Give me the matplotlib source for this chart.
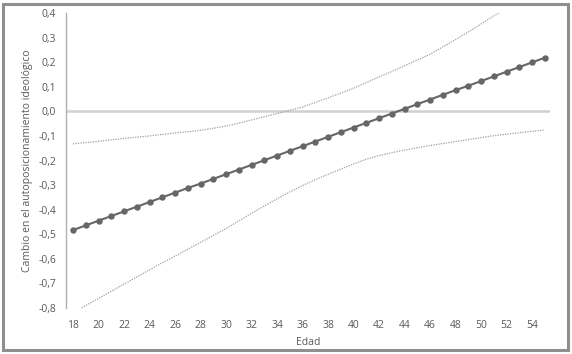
import matplotlib
matplotlib.use("Agg")
import matplotlib.pyplot as plt
from matplotlib.patches import Rectangle
from matplotlib.ticker import FuncFormatter

plt.rcParams['font.family'] = ['Open Sans', 'DejaVu Sans']

edad = list(range(18, 56))
prediccion = [-0.483, -0.464, -0.445, -0.426, -0.407, -0.388, -0.369, -0.350,
              -0.331, -0.312, -0.294, -0.275, -0.256, -0.237, -0.218, -0.199,
              -0.180, -0.161, -0.142, -0.123, -0.104, -0.085, -0.066, -0.047,
              -0.028, -0.009, 0.010, 0.029, 0.048, 0.067, 0.086, 0.104,
              0.123, 0.142, 0.161, 0.180, 0.199, 0.218]

edad_sup = list(range(18, 53))
ic_superior = [-0.132, -0.127, -0.122, -0.116, -0.110, -0.105, -0.100, -0.094,
               -0.088, -0.083, -0.077, -0.069, -0.060, -0.048, -0.035, -0.022,
               -0.009, 0.004, 0.018, 0.036, 0.055, 0.074, 0.094, 0.117,
               0.140, 0.162, 0.185, 0.209, 0.232, 0.262, 0.292, 0.323,
               0.355, 0.388, 0.420]

ic_inferior = [-0.819, -0.790, -0.761, -0.732, -0.703, -0.674, -0.645, -0.616,
               -0.589, -0.561, -0.533, -0.505, -0.477, -0.446, -0.415, -0.385,
               -0.356, -0.328, -0.302, -0.278, -0.256, -0.235, -0.214, -0.195,
               -0.180, -0.168, -0.158, -0.148, -0.139, -0.131, -0.123, -0.115,
               -0.107, -0.099, -0.093, -0.087, -0.081, -0.076]

yticks = [-0.8, -0.7, -0.6, -0.5, -0.4, -0.3, -0.2, -0.1, 0.0, 0.1, 0.2, 0.3, 0.4]
xticks = list(range(18, 55, 2))

fig = plt.figure(figsize=(5.72, 3.54), dpi=100)
ax = fig.add_axes([66/572, 1 - 308/354, (550 - 66)/572, (308 - 13)/354])

txt = '#595959'
ax.axhline(0, color='#d0d0d0', lw=1.8, zorder=1)
ax.plot(edad_sup, ic_superior, ls=(0, (1, 1)), color='#a0a0a0', lw=0.9, zorder=2)
ax.plot(edad, ic_inferior, ls=(0, (1, 1)), color='#a0a0a0', lw=0.9, zorder=2)
ax.plot(edad, prediccion, color='#666666', lw=1.5, marker='o', ms=3.6,
        markerfacecolor='#666666', markeredgecolor='#666666', zorder=3)

ax.set_xlim(17.45, 55.41)
ax.set_ylim(-0.8, 0.4)
ax.set_yticks(yticks)
ax.set_xticks(xticks)
ax.yaxis.set_major_formatter(FuncFormatter(lambda v, p: f"{v:.1f}".replace('.', ',').replace('-0,0', '0,0')))
for s in ['top', 'right', 'bottom']:
    ax.spines[s].set_visible(False)
ax.spines['left'].set_color('#b0b0b0')
ax.spines['left'].set_linewidth(1.0)
ax.tick_params(axis='both', length=0, labelsize=7.5, colors=txt)
ax.tick_params(axis='y', pad=7)
ax.tick_params(axis='x', pad=9)
ax.set_xlabel('Edad', fontsize=7.5, color=txt, labelpad=4)
ax.set_ylabel('Cambio en el autoposicionamiento ideológico', fontsize=7.5, color=txt, labelpad=4)

fig.patches.append(Rectangle((3/572, 4/354), 565/572, 346/354, transform=fig.transFigure,
                             fill=False, edgecolor='#8f8f8f', lw=2.2))

fig.savefig('out.png', dpi=100)
